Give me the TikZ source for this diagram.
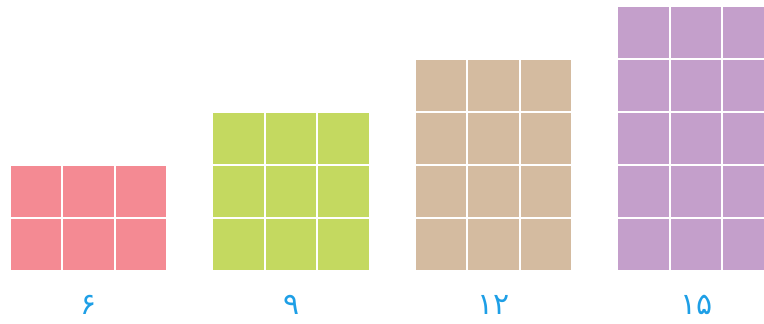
\documentclass[tikz,border=0pt]{standalone}
\usepackage{fontspec}
\newfontfamily\persianfont[Script=Arabic]{DejaVu Sans}
\definecolor{cellpink}{HTML}{F48A93}
\definecolor{cellgreen}{HTML}{C4D960}
\definecolor{celltan}{HTML}{D4BBA0}
\definecolor{cellpurple}{HTML}{C49FCB}
\definecolor{countblue}{HTML}{1E9FE6}
\begin{document}
\begin{tikzpicture}[x=1pt, y=-1pt,
    count/.style={text=countblue, font=\persianfont\fontsize{30}{30}\selectfont, inner sep=0pt, anchor=base}
  ]
  \useasboundingbox (0,0) rectangle (764,324);
  \clip (0,0) rectangle (764,324);
  % one grid of three columns per count
  \foreach \rows/\col/\lbl [count=\i from 0] in {2/cellpink/۶, 3/cellgreen/۹, 4/celltan/۱۲, 5/cellpurple/۱۵} {
    \foreach \r in {1,...,\rows}
      \foreach \c in {0,1,2}
        \fill[\col] ({10.5+202.5*\i+52.5*\c}, {272-53*\r}) rectangle +(50.5,51);
    \node[count] (count\i) at ({89+202.5*\i}, 314) {\lbl};
  }
\end{tikzpicture}
\end{document}
